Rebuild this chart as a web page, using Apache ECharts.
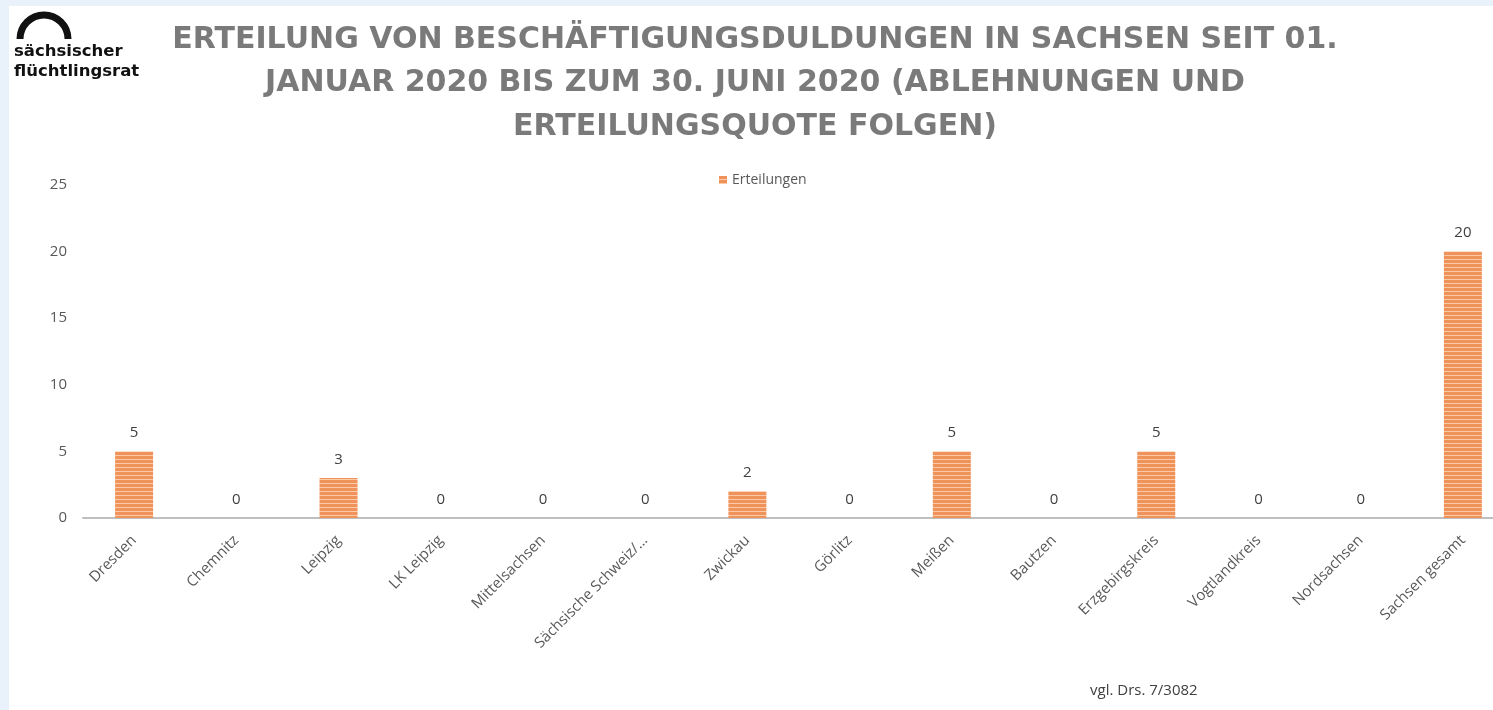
<!DOCTYPE html>
<html>
<head>
<meta charset="utf-8">
<script src="https://cdn.jsdelivr.net/npm/echarts@6/dist/echarts.min.js"></script>
<style>
  html, body { margin: 0; padding: 0; background: #e9f1fb; }
  #main { width: 1493px; height: 710px; }
</style>
</head>
<body>
<div id="main"></div>
<script>
// Daten
var categories = ['Dresden', 'Chemnitz', 'Leipzig', 'LK Leipzig', 'Mittelsachsen', 'Sächsische Schweiz/…',
  'Zwickau', 'Görlitz', 'Meißen', 'Bautzen', 'Erzgebirgskreis', 'Vogtlandkreis', 'Nordsachsen', 'Sachsen gesamt'];
var erteilungen = [5, 0, 3, 0, 0, 0, 2, 0, 5, 0, 5, 0, 0, 20];
var yTicks = [0, 5, 10, 15, 20, 25];

var titleLines = ['ERTEILUNG VON BESCHÄFTIGUNGSDULDUNGEN IN SACHSEN SEIT 01.',
  'JANUAR 2020 BIS ZUM 30. JUNI 2020 (ABLEHNUNGEN UND',
  'ERTEILUNGSQUOTE FOLGEN)'];

// gestreiftes Balkenmuster
var pat = document.createElement('canvas');
pat.width = 4; pat.height = 4;
var ctx = pat.getContext('2d');
ctx.fillStyle = '#f0935a';
ctx.fillRect(0, 0, 4, 4);
ctx.fillStyle = '#f9c9a8';
ctx.fillRect(0, 3, 4, 1);

var titleFont = 'bold 30px "DejaVu Sans", sans-serif';

var myChart = echarts.init(document.getElementById('main'));
var option = {
  backgroundColor: '#e9f1fb',
  textStyle: { fontFamily: '"Open Sans", sans-serif' },
  graphic: [
    { type: 'rect', z: -10, shape: { x: 9, y: 6, width: 1490, height: 710 }, style: { fill: '#ffffff' } },
    // Logo
    { type: 'arc', shape: { cx: 44, cy: 39, r: 24, startAngle: Math.PI, endAngle: 2 * Math.PI },
      style: { stroke: '#111', lineWidth: 7, fill: null } },
    { type: 'text', left: 14, top: 43, style: { text: 'sächsischer', font: 'bold 16.5px "DejaVu Sans", sans-serif', fill: '#111' } },
    { type: 'text', left: 14, top: 63, style: { text: 'flüchtlingsrat', font: 'bold 16.5px "DejaVu Sans", sans-serif', fill: '#111' } },
    // Titel
    { type: 'text', x: 755, y: 40, style: { text: titleLines[0], align: 'center', verticalAlign: 'middle',
      font: titleFont, fill: '#7a7a7a' } },
    { type: 'text', x: 755, y: 83, style: { text: titleLines[1], align: 'center', verticalAlign: 'middle',
      font: titleFont, fill: '#7a7a7a' } },
    { type: 'text', x: 755, y: 127, style: { text: titleLines[2], align: 'center', verticalAlign: 'middle',
      font: titleFont, fill: '#7a7a7a' } },
    // Quelle
    { type: 'text', x: 1090, y: 691, style: { text: 'vgl. Drs. 7/3082', verticalAlign: 'middle',
      font: '15px "Open Sans", sans-serif', fill: '#404040' } }
  ],
  legend: {
    top: 168,
    left: 714,
    itemWidth: 8,
    itemHeight: 8,
    icon: 'rect',
    itemGap: 4,
    textStyle: { fontSize: 14, color: '#595959' },
    data: ['Erteilungen']
  },
  grid: {
    left: 83,
    width: 1431,
    top: 185,
    bottom: 192,
    containLabel: false,
    outerBoundsMode: 'none'
  },
  xAxis: {
    type: 'category',
    data: categories,
    axisLine: { lineStyle: { color: '#bfbfbf', width: 2 } },
    axisTick: { show: false },
    axisLabel: {
      interval: 0,
      rotate: 45,
      margin: 20,
      fontSize: 15,
      color: '#595959'
    }
  },
  yAxis: {
    type: 'value',
    min: yTicks[0],
    max: yTicks[yTicks.length - 1],
    interval: yTicks[1] - yTicks[0],
    splitLine: { show: false },
    axisLine: { show: false },
    axisTick: { show: false },
    axisLabel: { fontSize: 15, color: '#595959', margin: 16 }
  },
  series: [{
    name: 'Erteilungen',
    type: 'bar',
    barWidth: 38,
    data: erteilungen,
    itemStyle: {
      color: { image: pat, repeat: 'repeat' }
    },
    label: {
      show: true,
      position: 'top',
      distance: 11,
      fontSize: 15,
      color: '#404040'
    }
  }]
};
myChart.setOption(option);
</script>
</body>
</html>
